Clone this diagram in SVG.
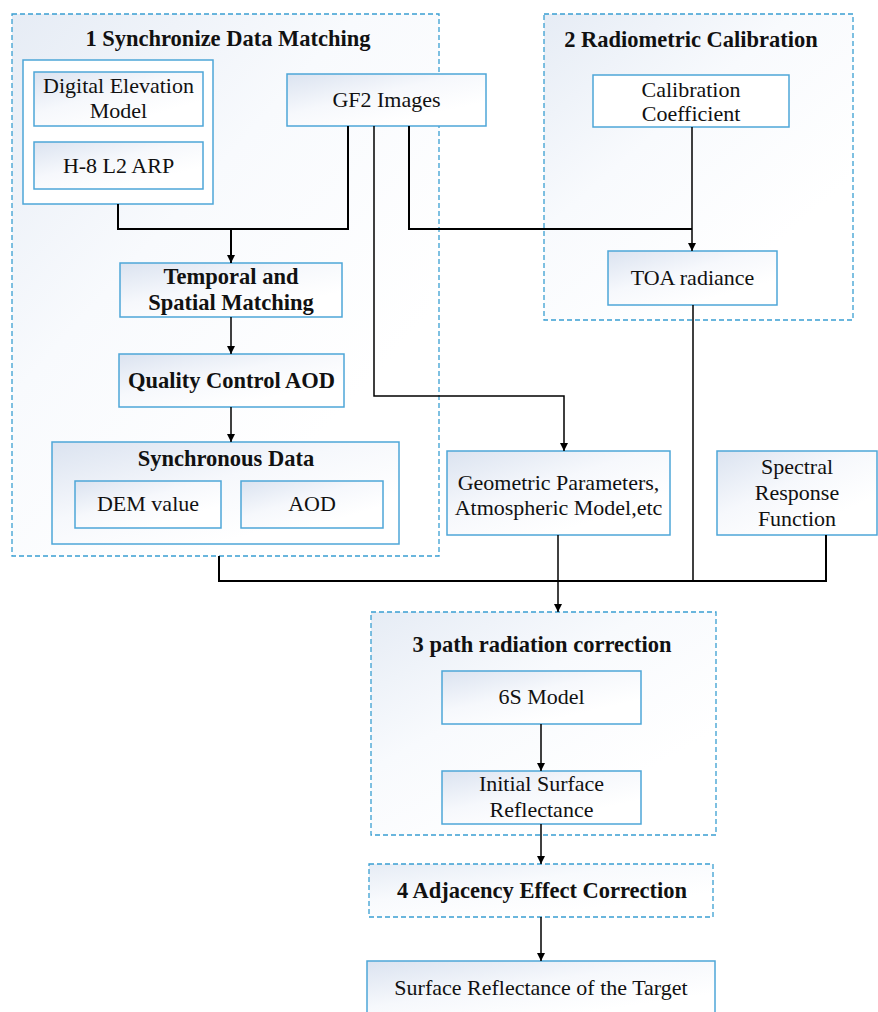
<svg xmlns="http://www.w3.org/2000/svg" width="878" height="1012" viewBox="0 0 878 1012">
<style>
.grp{stroke:#3a9fd2;stroke-width:1.3;stroke-dasharray:5,3;fill:url(#gg)}
.box{stroke:#4ea6d8;stroke-width:1.5;fill:url(#bg)}
.wbox{stroke:#4ea6d8;stroke-width:1.5;fill:#fff}
.t{font-family:"Liberation Serif","Times New Roman",serif;font-size:22px;fill:#111;text-anchor:middle}
.b{font-family:"Liberation Serif","Times New Roman",serif;font-size:22.5px;font-weight:bold;fill:#111;text-anchor:middle}
.c{fill:none;stroke:#000;stroke-width:1.5}
.c2{fill:none;stroke:#000;stroke-width:2}
</style>
<defs>
<linearGradient id="bg" x1="0" y1="0" x2="0.7" y2="0.8">
<stop offset="0" stop-color="#dbe3f0"/><stop offset="0.55" stop-color="#f6f8fc"/><stop offset="1" stop-color="#ffffff"/>
</linearGradient>
<linearGradient id="gg" x1="0" y1="0" x2="0.7" y2="0.8">
<stop offset="0" stop-color="#e6ecf5"/><stop offset="0.5" stop-color="#f8fafd"/><stop offset="1" stop-color="#ffffff"/>
</linearGradient>
<marker id="ar" viewBox="0 0 10 10" refX="10" refY="5" markerWidth="8" markerHeight="8" markerUnits="userSpaceOnUse" orient="auto">
<path d="M0,0 L10,5 L0,10 z" fill="#000"/>
</marker>
</defs>
<rect width="878" height="1012" fill="#fff"/>

<g id="group1">
<rect class="grp" x="12" y="14" width="427" height="542"/>
<text class="b" x="228" y="46">1 Synchronize Data Matching</text>
</g>
<g id="group2">
<rect class="grp" x="544" y="14" width="309" height="306"/>
<text class="b" x="691" y="47">2 Radiometric Calibration</text>
</g>
<g id="group3">
<rect class="grp" x="371" y="612" width="345" height="223"/>
<text class="b" x="542" y="652">3 path radiation correction</text>
</g>
<g id="group4">
<rect class="grp" x="369" y="864" width="344" height="53"/>
<text class="b" x="542" y="898">4 Adjacency Effect Correction</text>
</g>

<g id="inputs">
<rect class="wbox" x="23" y="60" width="190" height="144"/>
</g>
<g id="dem">
<rect class="box" x="34" y="72" width="169" height="54"/>
<text class="t" x="118.5" y="93">Digital Elevation</text>
<text class="t" x="118.5" y="118">Model</text>
</g>
<g id="h8">
<rect class="box" x="34" y="142" width="169" height="47"/>
<text class="t" x="118.5" y="173">H-8 L2 ARP</text>
</g>
<g id="gf2">
<rect class="box" x="287" y="74" width="199" height="52"/>
<text class="t" x="386.5" y="107">GF2 Images</text>
</g>
<g id="calcoef">
<rect class="wbox" x="593" y="75" width="196" height="52"/>
<text class="t" x="691" y="97">Calibration</text>
<text class="t" x="691" y="121">Coefficient</text>
</g>
<g id="toa">
<rect class="box" x="608" y="251" width="169" height="54"/>
<text class="t" x="692.5" y="285">TOA radiance</text>
</g>
<g id="temporal">
<rect class="box" x="120" y="263" width="222" height="54"/>
<text class="b" x="231" y="284">Temporal and</text>
<text class="b" x="231" y="310">Spatial Matching</text>
</g>
<g id="quality">
<rect class="box" x="119" y="354" width="225" height="53"/>
<text class="b" x="231.5" y="388">Quality Control AOD</text>
</g>
<g id="sync">
<rect class="box" x="52" y="442" width="347" height="102"/>
<text class="b" x="226" y="466">Synchronous Data</text>
</g>
<g id="demvalue">
<rect class="box" x="75" y="481" width="146" height="47"/>
<text class="t" x="148" y="511">DEM value</text>
</g>
<g id="aod">
<rect class="box" x="241" y="481" width="142" height="47"/>
<text class="t" x="312" y="511">AOD</text>
</g>
<g id="geometric">
<rect class="box" x="447" y="451" width="223" height="84"/>
<text class="t" x="558.5" y="490">Geometric Parameters,</text>
<text class="t" x="558.5" y="515">Atmospheric Model,etc</text>
</g>
<g id="spectral">
<rect class="box" x="717" y="451" width="160" height="84"/>
<text class="t" x="797" y="474">Spectral</text>
<text class="t" x="797" y="500">Response</text>
<text class="t" x="797" y="526">Function</text>
</g>
<g id="sixs">
<rect class="box" x="442" y="671" width="199" height="53"/>
<text class="t" x="541.5" y="704">6S Model</text>
</g>
<g id="initial">
<rect class="box" x="442" y="771" width="199" height="53"/>
<text class="t" x="541.5" y="791">Initial Surface</text>
<text class="t" x="541.5" y="817">Reflectance</text>
</g>
<g id="final">
<rect class="box" x="367" y="961" width="348" height="60"/>
<text class="t" x="541" y="995">Surface Reflectance of the Target</text>
</g>

<g id="connectors">
<path class="c2" d="M118,204 V229 H348 V126"/>
<path class="c2" d="M231,229 V263" marker-end="url(#ar)"/>
<path class="c2" d="M409,126 V229 H692"/>
<path class="c" d="M692,127 V251" marker-end="url(#ar)"/>
<path class="c" d="M231,317 V354" marker-end="url(#ar)"/>
<path class="c" d="M231,407 V442" marker-end="url(#ar)"/>
<path class="c" d="M374,126 V396 H564 V451" marker-end="url(#ar)"/>
<path class="c" d="M693,305 V581"/>
<path class="c2" d="M219,556 V581 H826 V535"/>
<path class="c" d="M558,535 V612" marker-end="url(#ar)"/>
<path class="c" d="M541,724 V771" marker-end="url(#ar)"/>
<path class="c" d="M541,824 V864" marker-end="url(#ar)"/>
<path class="c" d="M541,917 V961" marker-end="url(#ar)"/>
</g>
</svg>
